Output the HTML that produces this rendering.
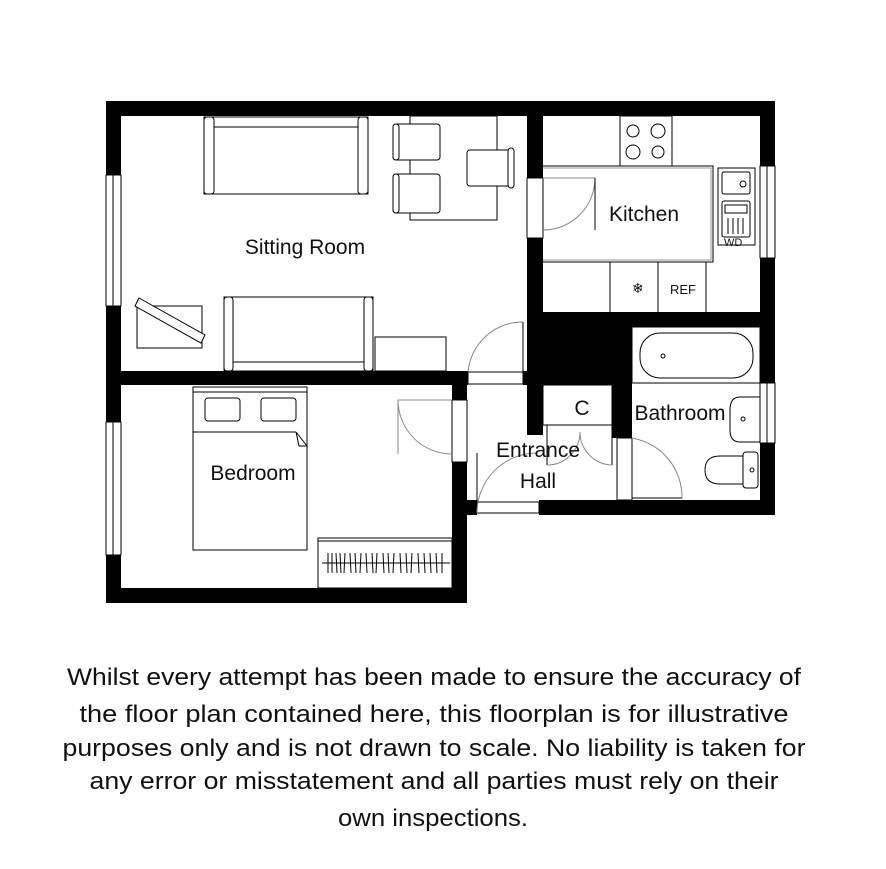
<!DOCTYPE html>
<html><head><meta charset="utf-8"><style>
html,body{margin:0;padding:0;background:#fff;}
svg{display:block}
text{font-family:"Liberation Sans",sans-serif;fill:#111}
</style></head><body>
<svg width="886" height="869" viewBox="0 0 886 869" xmlns="http://www.w3.org/2000/svg">
<g fill="#000">
<!-- outer walls -->
<rect x="106" y="101" width="669" height="15"/>
<rect x="106" y="101" width="15" height="502"/>
<rect x="760" y="101" width="15" height="414"/>
<rect x="106" y="588" width="361" height="15"/>
<!-- sitting/bedroom wall -->
<rect x="106" y="371" width="362" height="14"/>
<!-- bedroom right wall -->
<rect x="452" y="371" width="15" height="232"/>
<rect x="467" y="500" width="10" height="15"/>
<!-- sitting/kitchen wall -->
<rect x="527" y="101" width="16" height="334"/>
<rect x="523" y="371" width="5" height="14"/>
<!-- kitchen/bathroom wall + block -->
<rect x="527" y="312" width="248" height="15"/>
<rect x="527" y="312" width="105" height="73"/>
<rect x="612" y="383" width="20" height="55"/>
<!-- bottom wall -->
<rect x="539" y="500" width="236" height="15"/>
</g>
<g fill="#fff" stroke="#000" stroke-width="1">
<!-- windows -->
<rect x="106" y="175" width="15" height="131"/>
<rect x="106" y="422" width="15" height="133"/>
<rect x="760" y="166" width="15" height="92"/>
<rect x="760" y="383" width="15" height="60"/>
<!-- door openings -->
<rect x="527" y="178" width="16" height="60"/>
<rect x="452" y="400" width="15" height="62"/>
<rect x="468" y="372" width="55" height="12"/>
<rect x="477" y="502" width="62" height="11"/>
<rect x="617" y="438" width="15" height="62"/>
</g>
<g fill="none" stroke="#000" stroke-width="1">
<line x1="113" y1="175" x2="113" y2="306"/><line x1="113" y1="422" x2="113" y2="555"/>
<line x1="767" y1="166" x2="767" y2="258"/><line x1="767" y1="383" x2="767" y2="443"/>
<!-- door swings -->
<path d="M543 178 L595 178 A52 52 0 0 1 543 230" stroke="#888"/>
<line x1="595" y1="178" x2="595" y2="230"/>
<path d="M452 400 L398 400 A54 54 0 0 0 452 454" stroke="#888"/>
<line x1="398" y1="400" x2="398" y2="454" stroke="#888"/>
<path d="M468 372 A55 55 0 0 1 523 322" stroke="#888"/><line x1="523" y1="322" x2="523" y2="372"/>
<path d="M477 513 A60 60 0 0 1 537 453" stroke="#888"/><line x1="477" y1="453" x2="477" y2="503"/>
<path d="M632 438 A60 60 0 0 1 682 498" stroke="#888"/><line x1="632" y1="498" x2="682" y2="498"/>
<!-- closet -->
<rect x="543" y="385" width="69" height="40"/>
<line x1="547" y1="425" x2="547" y2="465"/><line x1="612" y1="425" x2="612" y2="465"/>
<path d="M547 465 A33 33 0 0 0 580 432" stroke="#888"/><path d="M612 465 A33 33 0 0 1 580 432" stroke="#888"/>
<!-- sitting furniture -->
<rect x="204" y="117" width="164" height="77"/>
<rect x="204" y="117" width="10" height="77" rx="3"/><rect x="358" y="117" width="10" height="77" rx="3"/>
<line x1="214" y1="127" x2="358" y2="127"/>
<rect x="410" y="116" width="87" height="104"/>
<rect x="393" y="124" width="47" height="36" rx="3" fill="#fff"/><rect x="393" y="124" width="6" height="36" rx="3" fill="#fff"/>
<rect x="393" y="174" width="47" height="39" rx="3" fill="#fff"/><rect x="393" y="174" width="6" height="39" rx="3" fill="#fff"/>
<rect x="467" y="150" width="47" height="36" rx="3" fill="#fff"/><rect x="508" y="148" width="6" height="40" rx="3" fill="#fff"/>
<rect x="224" y="297" width="149" height="74"/>
<rect x="224" y="297" width="9" height="74" rx="3"/><rect x="364" y="297" width="9" height="74" rx="3"/>
<line x1="233" y1="362" x2="364" y2="362"/>
<rect x="375" y="337" width="71" height="34"/>
<rect x="137" y="306" width="65" height="42"/>
<polygon points="139,298 205,335 201,343 135,306" fill="#fff"/>
<!-- bedroom -->
<rect x="193" y="387" width="114" height="163"/>
<line x1="193" y1="392" x2="307" y2="392"/>
<line x1="193" y1="432" x2="296" y2="432"/>
<path d="M296 432 L307 446 L299 446 Z"/>
<rect x="205" y="398" width="35" height="23" rx="3"/><rect x="261" y="398" width="35" height="23" rx="3"/>
<rect x="318" y="538" width="134" height="50"/>
<line x1="318" y1="541" x2="452" y2="541"/>
<line x1="322" y1="563" x2="450" y2="563"/>
<path d="M328 553v20M332 553v20M336 553l1 20M340 553l1 20M345 553l-1 20M350 553l1 20M355 553l1 20M361 553l-1 20M366 553l1 20M372 553l1 20M377 553l-1 20M383 553l1 20M388 553l1 20M394 553l-1 20M400 553l1 20M406 553l1 20M412 553l-1 20M418 553l1 20M424 553l1 20M430 553l1 20M436 553l1 20M442 553v20"/>
<!-- kitchen -->
<rect x="620" y="116" width="52" height="50"/>
<circle cx="633" cy="131" r="6"/><circle cx="658" cy="131" r="7"/><circle cx="633" cy="152" r="7"/><circle cx="658" cy="152" r="6"/>
<polyline points="543,166 713,166 713,262 543,262"/>
<polyline points="543,168 711,168 711,260 543,260" stroke="#999"/>
<line x1="610" y1="262" x2="610" y2="312"/><line x1="658" y1="262" x2="658" y2="312"/><line x1="706" y1="262" x2="706" y2="312"/>
<rect x="718" y="168" width="37" height="77"/>
<rect x="722" y="172" width="28" height="22" rx="2"/><rect x="722" y="201" width="28" height="36" rx="2"/>
<circle cx="743" cy="184" r="3"/><rect x="725" y="205" width="22" height="8"/>
<path d="M728 218v16M733 218v16M738 218v16M743 218v16"/>
<!-- bathroom -->
<rect x="632" y="327" width="128" height="56"/>
<rect x="640" y="333" width="113" height="45" rx="20"/>
<circle cx="663" cy="356" r="2"/>
<path d="M760 397 L740 397 Q730 397 730 410 L730 430 Q730 442 740 442 L760 442 Z"/>
<circle cx="743" cy="419" r="2"/>
<rect x="743" y="452" width="15" height="36" rx="3"/>
<path d="M743 456 L720 456 Q705 456 705 470 Q705 484 720 484 L743 484"/>
<circle cx="752" cy="470" r="2"/>
</g>
<text x="632" y="293" font-size="14">❄</text>
<text x="670" y="294" font-size="13">REF</text>
<text x="724" y="246" font-size="11">WD</text>
<text x="305" y="254" font-size="21" text-anchor="middle">Sitting Room</text>
<text x="644" y="221" font-size="21" text-anchor="middle">Kitchen</text>
<text x="253" y="480" font-size="21" text-anchor="middle">Bedroom</text>
<text x="680" y="420" font-size="21" text-anchor="middle">Bathroom</text>
<text x="582" y="415" font-size="21" text-anchor="middle">C</text>
<text x="538" y="457" font-size="21" text-anchor="middle">Entrance</text>
<text x="538" y="488" font-size="21" text-anchor="middle">Hall</text>
<g font-size="24" text-anchor="middle">
<text x="434" y="685" textLength="734" lengthAdjust="spacingAndGlyphs">Whilst every attempt has been made to ensure the accuracy of</text>
<text x="434" y="722" textLength="709" lengthAdjust="spacingAndGlyphs">the floor plan contained here, this floorplan is for illustrative</text>
<text x="434" y="756" textLength="743" lengthAdjust="spacingAndGlyphs">purposes only and is not drawn to scale. No liability is taken for</text>
<text x="434" y="789" textLength="689" lengthAdjust="spacingAndGlyphs">any error or misstatement and all parties must rely on their</text>
<text x="433" y="826" textLength="190" lengthAdjust="spacingAndGlyphs">own inspections.</text>
</g>
</svg>
</body></html>
